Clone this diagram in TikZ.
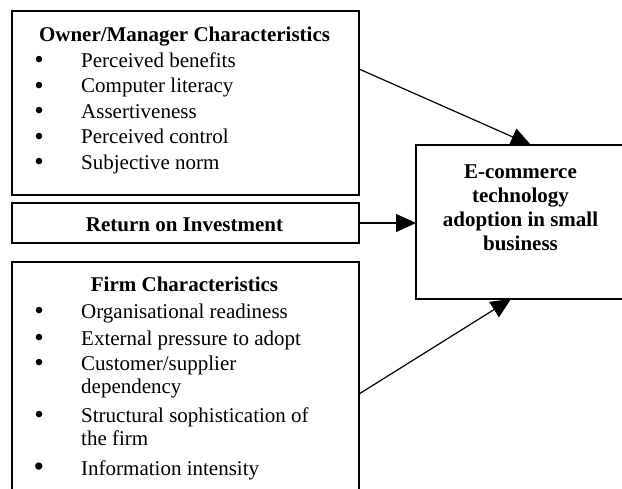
\documentclass[tikz,border=0pt]{standalone}
\usepackage{fontspec}
\setmainfont{Liberation Serif}
\usetikzlibrary{arrows.meta,calc}
\begin{document}
\begin{tikzpicture}[x=1pt,y=-1pt,
  boxst/.style={draw, line width=1.5pt, inner sep=0pt, outer sep=0pt},
  openbox/.style={inner sep=0pt, outer sep=0pt},
  edge/.style={line width=1.5pt},
  txt/.style={inner sep=0pt, anchor=base west, font=\fontsize{21}{25}\selectfont},
  ttl/.style={inner sep=0pt, anchor=base, font=\fontsize{21}{25}\selectfont\bfseries},
  bul/.style={inner sep=0pt, anchor=base, yshift=-1.5pt, font=\fontsize{27}{25}\selectfont},
  arr/.style={line width=1.2pt, -{Triangle[length=20pt,width=18pt]}}]
\useasboundingbox (0,0) rectangle (622,488);

% boxes
\node[boxst, minimum width=347pt, minimum height=184pt] (own) at (185.5,103) {};
\node[boxst, minimum width=347pt, minimum height=40pt] (roi) at (185.5,223) {};
\node[openbox, minimum width=347pt, minimum height=230pt] (firm) at (185.5,377) {};
\draw[edge] (firm.south west) -- (firm.north west) -- (firm.north east) -- (firm.south east);
\node[openbox, minimum width=206pt, minimum height=154pt] (ec) at (519,222) {};
\draw[edge] (ec.north east) -- (ec.north west) -- (ec.south west) -- (ec.south east);

% owner/manager
\node[ttl] (t1) at (184.5,41.7) {Owner/Manager Characteristics};
\node[bul] (b11) at (39,67.3) {\textbullet};
\node[txt] (i11) at (81,67.3) {Perceived benefits};
\node[bul] (b12) at (39,92.7) {\textbullet};
\node[txt] (i12) at (81,92.7) {Computer literacy};
\node[bul] (b13) at (39,118.1) {\textbullet};
\node[txt] (i13) at (81,118.1) {Assertiveness};
\node[bul] (b14) at (39,143.5) {\textbullet};
\node[txt] (i14) at (81,143.5) {Perceived control};
\node[bul] (b15) at (39,169) {\textbullet};
\node[txt] (i15) at (81,169) {Subjective norm};

% ROI
\node[ttl] (t2) at (184.5,231.7) {Return on Investment};

% firm
\node[ttl] (t3) at (184.5,291) {Firm Characteristics};
\node[bul] (b31) at (39,318) {\textbullet};
\node[txt] (i31) at (81,318) {Organisational readiness};
\node[bul] (b32) at (39,345) {\textbullet};
\node[txt] (i32) at (81,345) {External pressure to adopt};
\node[bul] (b33) at (39,370) {\textbullet};
\node[txt] (i33) at (81,370) {Customer/supplier};
\node[txt] (i33b) at (81,393) {dependency};
\node[bul] (b34) at (39,422) {\textbullet};
\node[txt] (i34) at (81,422) {Structural sophistication of};
\node[txt] (i34b) at (81,445) {the firm};
\node[bul, font=\fontsize{30}{25}\selectfont] (b35) at (39,475) {\textbullet};
\node[txt] (i35) at (81,475) {Information intensity};

% outcome
\node[ttl] (e1) at (520.5,178) {E-commerce};
\node[ttl] (e2) at (520.5,202.3) {technology};
\node[ttl] (e3) at (520.5,226.6) {adoption in small};
\node[ttl] (e4) at (520.5,250.9) {business};

% connectors
\draw[arr] ([yshift=-58pt]own.north east) -- ([xshift=115pt]ec.north west);
\draw[arr] (roi.east) -- (roi.east -| ec.west);
\draw[arr] ([yshift=-132pt]firm.north east) -- ([xshift=95pt]ec.south west);
\end{tikzpicture}
\end{document}
